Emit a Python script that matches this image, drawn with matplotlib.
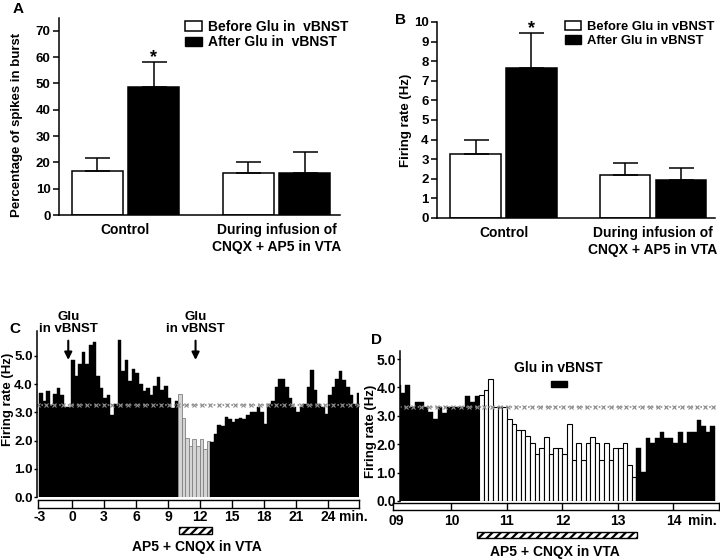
import numpy as np
import matplotlib
matplotlib.use('Agg')
import matplotlib.pyplot as plt
from matplotlib.patches import Patch, Rectangle
from matplotlib.transforms import blended_transform_factory
from matplotlib.ticker import FormatStrFormatter

plt.rcParams['font.family'] = ['Liberation Sans', 'DejaVu Sans']
plt.rcParams['font.weight'] = 'bold'
plt.rcParams['axes.labelweight'] = 'bold'
plt.rcParams['font.size'] = 9.5
plt.rcParams['hatch.linewidth'] = 1.6
plt.rcParams['axes.linewidth'] = 1.1

W, H = 720, 560

# ---- panels A and B: group means with SEM
groups = ['Control', 'During infusion of\nCNQX + AP5 in VTA']
labels_a = ['Before Glu in  vBNST', 'After Glu in  vBNST']
labels_b = ['Before Glu in vBNST', 'After Glu in vBNST']

burst_before = [16.7, 15.9]
burst_before_sem = [4.8, 4.1]
burst_after = [48.8, 16.1]
burst_after_sem = [9.5, 8.0]

rate_before = [3.25, 2.2]
rate_before_sem = [0.72, 0.62]
rate_after = [7.65, 1.92]
rate_after_sem = [1.78, 0.64]

# ---- panel C: firing rate histogram, 20 s bins starting at -3 min
c_start = -3
c_bin = 1 / 3
c_pre = [3.7, 3.4, 3.75, 3.25, 3.65, 3.85, 3.6, 3.2, 3.2,
         4.85, 4.3, 4.7, 5.15, 4.7, 5.4, 5.5, 4.3, 3.85,
         3.5, 3.6, 2.9, 3.3, 5.55, 4.45, 4.85, 4.1, 4.55,
         4.4, 4.0, 3.75, 3.85, 3.6, 3.95, 4.25, 3.8, 3.95, 3.5, 3.15, 3.4]
c_drug = [3.65, 2.8, 2.1, 1.8, 2.05, 1.8, 2.05, 1.7, 2.0]
c_post = [1.95, 2.25, 2.55, 2.5, 2.85, 2.75, 2.65, 2.75, 2.8, 2.75, 2.9,
          3.0, 3.0, 3.2, 3.0, 2.6, 3.3, 3.4, 3.9, 4.2, 4.2,
          3.9, 3.5, 3.2, 3.0, 3.2, 3.3, 3.9, 4.5, 3.8, 3.3,
          3.2, 2.95, 3.6, 3.9, 4.2, 4.45, 4.15, 3.9, 3.6, 3.3, 3.7]
c_baseline = 3.25
c_ticks = [-3, 0, 3, 6, 9, 12, 15, 18, 21, 24]
c_glu = [-0.27, 11.62]
c_drug_bar = (10.02, 13.14)

# ---- panel D: 5 s bins starting at 9 min
d_start = 9
d_bin = 1 / 12
d_pre = [4.1, 3.8, 4.1, 3.3, 3.5, 3.5, 3.3, 3.15, 2.9, 3.3, 3.1, 3.3,
         3.3, 3.3, 3.3, 3.7, 3.5, 3.7]
d_drug = [3.75, 3.9, 4.3, 3.3, 3.3, 3.3, 2.9, 2.7, 2.5, 2.5, 2.3, 2.05,
          1.65, 1.85, 2.25, 1.65, 1.85, 1.85, 1.65, 2.7, 1.45, 2.05, 1.45,
          2.05, 2.25, 2.05, 1.45, 2.05, 1.45, 1.85, 1.85, 2.05, 1.27, 0.86]
d_post = [1.85, 1.03, 2.22, 2.05, 2.22, 2.42, 2.22, 2.22, 2.05, 2.42,
          2.05, 2.42, 2.42, 2.85, 2.64, 2.42, 2.64]
d_baseline = 3.3
d_ticks = [9, 10, 11, 12, 13, 14]
d_ticklabels = ['09', '10', '11', '12', '13', '14']
d_glu = (11.79, 12.08)
d_drug_bar = (10.46, 13.34)


def box(l, t, r, b):
    return [l / W, 1 - b / H, (r - l) / W, (b - t) / H]


fig = plt.figure(figsize=(7.2, 5.6), dpi=100)


def bar_panel(ax, before, before_sem, after, after_sem, ymax, yticks,
              ylabel, legend_labels, legend_xy, xlim, legend_size):
    x = np.arange(len(groups))
    w, off = 0.34, 0.187
    ax.bar(x - off, before, w, color='white', edgecolor='black', linewidth=1.1)
    ax.bar(x + off, after, w, color='black', edgecolor='black', linewidth=1.1)
    ax.errorbar(x - off, before, yerr=[np.zeros(len(x)), before_sem], fmt='none',
                ecolor='black', elinewidth=1.1, capsize=9, capthick=1.1)
    ax.errorbar(x + off, after, yerr=[np.zeros(len(x)), after_sem], fmt='none',
                ecolor='black', elinewidth=1.1, capsize=9, capthick=1.1)
    ax.text(off, after[0] + after_sem[0], '*', ha='center', va='baseline', fontsize=13)
    ax.set_xlim(*xlim)
    ax.set_ylim(0, ymax)
    ax.set_yticks(yticks)
    ax.set_xticks(x)
    ax.set_xticklabels(groups, fontsize=10)
    ax.tick_params(axis='x', length=0, pad=6)
    ax.tick_params(axis='y', direction='out', length=4, width=1.1, pad=2)
    ax.spines['top'].set_visible(False)
    ax.spines['right'].set_visible(False)
    ax.set_ylabel(ylabel)
    handles = [Patch(facecolor='white', edgecolor='black', linewidth=1.1),
               Patch(facecolor='black', edgecolor='black')]
    ax.legend(handles, legend_labels, loc='upper left',
              bbox_to_anchor=(legend_xy[0] / W, 1 - legend_xy[1] / H),
              bbox_transform=fig.transFigure, frameon=False, borderpad=0,
              borderaxespad=0, handlelength=1.25, handleheight=0.72,
              handletextpad=0.42, labelspacing=0.1, fontsize=legend_size)


ax_a = fig.add_axes(box(59, 17.7, 340, 215))
bar_panel(ax_a, burst_before, burst_before_sem, burst_after, burst_after_sem,
          75, range(0, 71, 10), 'Percentage of spikes in burst', labels_a,
          (185, 20), (-0.44, 1.42), 10)
ax_a.yaxis.set_label_coords(-0.128, 0.456)

ax_b = fig.add_axes(box(437, 22, 715, 218))
bar_panel(ax_b, rate_before, rate_before_sem, rate_after, rate_after_sem,
          10, range(0, 11), 'Firing rate (Hz)', labels_b, (565, 21),
          (-0.445, 1.415), 9.4)
ax_b.yaxis.set_label_coords(-0.09, 0.5)


def hist_panel(ax, ax_t, start, width, pre, drug, post, drug_style, baseline,
               ymax, xlim, ticks, ticklabels, ysize):
    vals = pre + drug + post
    left = start + width * np.arange(len(vals))
    n1, n2 = len(pre), len(pre) + len(drug)
    ax.bar(left[:n1], pre, width, align='edge', color='black',
           edgecolor='black', linewidth=0.3)
    ax.bar(left[n1:n2], drug, width, align='edge', **drug_style)
    ax.bar(left[n2:], post, width, align='edge', color='black',
           edgecolor='black', linewidth=0.3)
    ax.axhline(baseline, ls=':', color='0.55', lw=1.2)
    xs = np.linspace(xlim[0] + 0.1, xlim[1] - 0.05, 40)
    ax.plot(xs, np.full(len(xs), baseline), 'x', color='0.55', ms=2.6, mew=0.8)
    ax.set_xlim(*xlim)
    ax.set_ylim(0, ymax)
    ax.set_xticks([])
    ax.set_yticks(range(0, 6))
    ax.yaxis.set_major_formatter(FormatStrFormatter('%.1f'))
    ax.tick_params(axis='y', direction='out', length=2, width=1, pad=1,
                   labelsize=ysize)
    for s in ['top', 'right', 'bottom']:
        ax.spines[s].set_visible(False)
    ax.set_ylabel('Firing rate (Hz)')

    ax_t.set_ylim(0, 1)
    ax_t.set_yticks([])
    ax_t.vlines(ticks[1:], 0, 1, color='black', lw=1)
    ax_t.set_xticks(ticks)
    ax_t.set_xticklabels(ticklabels)
    ax_t.tick_params(axis='x', length=0, pad=1.5, labelsize=10)
    for s in ax_t.spines.values():
        s.set_linewidth(1)


# panel C
ax_c = fig.add_axes(box(37, 330.6, 358.6, 497))
ax_ct = fig.add_axes(box(38, 500, 358.6, 508))
c_xlim = (-3.19, 26.85)
hist_panel(ax_c, ax_ct, c_start, c_bin, c_pre, c_drug, c_post,
           dict(color='#d4d4d4', edgecolor='#808080', linewidth=0.6),
           c_baseline, 5.9, c_xlim, c_ticks, [str(t) for t in c_ticks], 9.5)
ax_c.yaxis.set_label_coords(-0.07, 0.585)
ax_ct.set_xlim(*c_xlim)
ax_ct.annotate('min.', xy=(25.05, 0), xycoords=('data', 'axes fraction'),
               xytext=(0, -1.5), textcoords='offset points', ha='left',
               va='top', fontsize=10, annotation_clip=False)
for t in c_glu:
    ax_c.annotate('Glu\nin vBNST', xy=(t, 4.86), xytext=(t, 5.74), ha='center',
                  va='bottom', linespacing=1.0, annotation_clip=False,
                  arrowprops=dict(arrowstyle='-|>', color='black', lw=1.5,
                                  mutation_scale=11, shrinkA=2, shrinkB=0))
tr = blended_transform_factory(ax_ct.transData, fig.transFigure)
fig.add_artist(Rectangle((c_drug_bar[0], 1 - 534 / H), c_drug_bar[1] - c_drug_bar[0],
                         7 / H, transform=tr, facecolor='white',
                         edgecolor='black', hatch='////', lw=1))
fig.text(197 / W, 1 - 547 / H, 'AP5 + CNQX in VTA', ha='center', va='center',
         fontsize=10)

# panel D
ax_d = fig.add_axes(box(400, 350.5, 716, 501))
ax_dt = fig.add_axes(box(393, 503, 719, 510))
d_xlim = (9.072, 14.766)
hist_panel(ax_d, ax_dt, d_start, d_bin, d_pre, d_drug, d_post,
           dict(color='white', edgecolor='black', linewidth=0.8),
           d_baseline, 5.3, d_xlim, d_ticks, d_ticklabels, 10)
ax_d.yaxis.set_label_coords(-0.073, 0.46)
ax_dt.set_xlim(8.946, 14.82)
ax_dt.tick_params(axis='x', pad=3)
ax_dt.annotate('min.', xy=(14.26, 0), xycoords=('data', 'axes fraction'),
               xytext=(0, -3), textcoords='offset points', ha='left',
               va='top', fontsize=10, annotation_clip=False)
ax_d.text(sum(d_glu) / 2 - 0.015, 4.45, 'Glu in vBNST', ha='center', va='bottom',
          fontsize=10)
ax_d.add_patch(Rectangle((d_glu[0], 4.01), d_glu[1] - d_glu[0], 0.22,
                         color='black'))
tr = blended_transform_factory(ax_dt.transData, fig.transFigure)
fig.add_artist(Rectangle((d_drug_bar[0], 1 - 538 / H), d_drug_bar[1] - d_drug_bar[0],
                         6 / H, transform=tr, facecolor='white',
                         edgecolor='black', hatch='////', lw=1))
fig.text(555 / W, 1 - 552 / H, 'AP5 + CNQX in VTA', ha='center', va='center',
         fontsize=10)

# panel letters
for letter, px, py in [('A', 18, 9), ('B', 401, 20), ('C', 15, 329), ('D', 377, 340)]:
    fig.text(px / W, 1 - py / H, letter, ha='center', va='center', fontsize=11)

fig.savefig('out.png', dpi=100)
